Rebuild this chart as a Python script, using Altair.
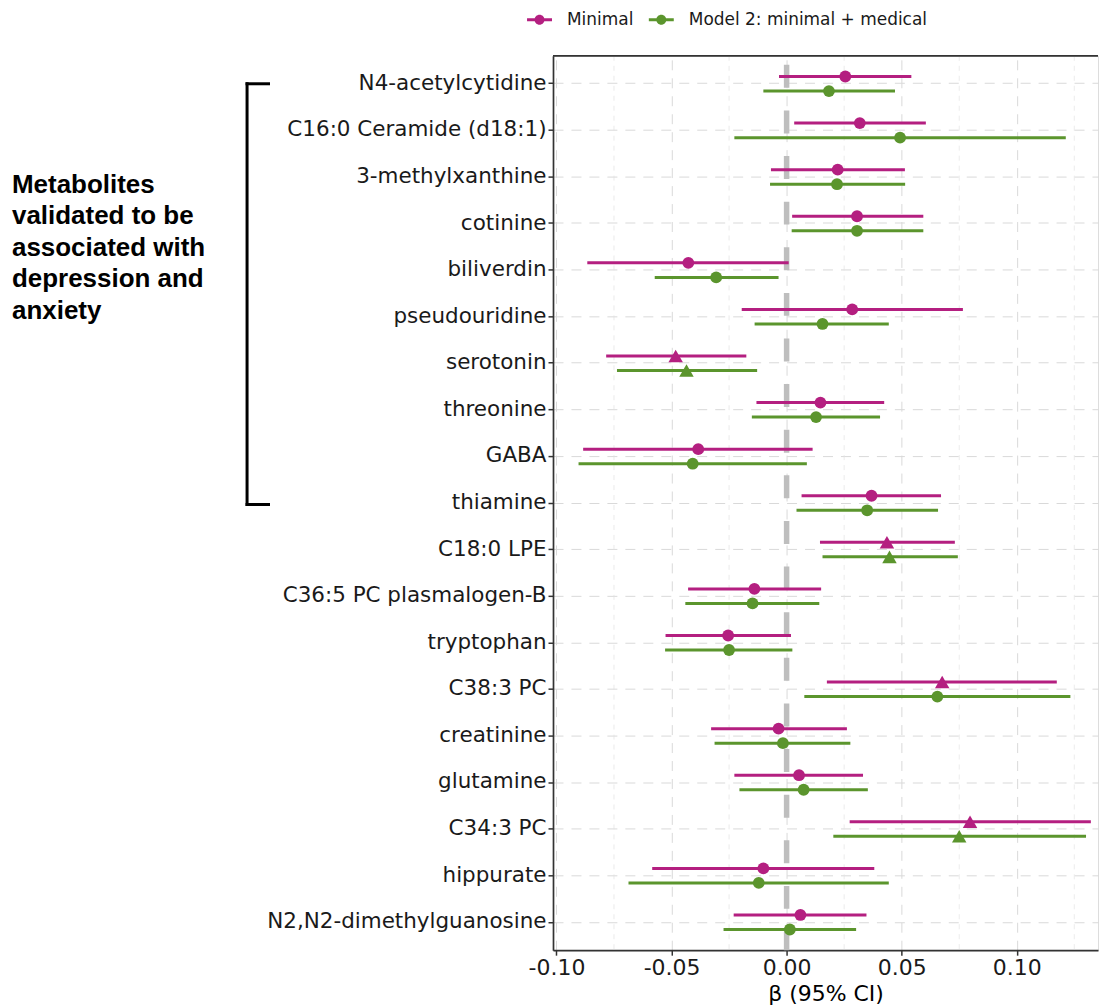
import altair as alt
import pandas as pd

metabolites = [
    "N4-acetylcytidine", "C16:0 Ceramide (d18:1)", "3-methylxanthine", "cotinine",
    "biliverdin", "pseudouridine", "serotonin", "threonine", "GABA", "thiamine",
    "C18:0 LPE", "C36:5 PC plasmalogen-B", "tryptophan", "C38:3 PC", "creatinine",
    "glutamine", "C34:3 PC", "hippurate", "N2,N2-dimethylguanosine",
]
models = ["Minimal", "Model 2: minimal + medical"]

minimal_beta = [0.0255, 0.0318, 0.0222, 0.0306, -0.0427, 0.0285, -0.0482, 0.0147, -0.0384, 0.0369,
                0.0436, -0.0140, -0.0254, 0.0676, -0.0035, 0.0054, 0.0797, -0.0101, 0.0060]
minimal_lo = [-0.0033, 0.0033, -0.0068, 0.0024, -0.0866, -0.0195, -0.0784, -0.0131, -0.0884, 0.0065,
              0.0145, -0.0428, -0.0526, 0.0175, -0.0328, -0.0227, 0.0274, -0.0584, -0.0230]
minimal_hi = [0.0542, 0.0605, 0.0514, 0.0594, 0.0009, 0.0766, -0.0175, 0.0424, 0.0113, 0.0671,
              0.0731, 0.0150, 0.0019, 0.1174, 0.0262, 0.0332, 0.1322, 0.0381, 0.0347]
minimal_sig = ["ns", "ns", "ns", "ns", "ns", "ns", "sig", "ns", "ns", "ns",
               "sig", "ns", "ns", "sig", "ns", "ns", "sig", "ns", "ns"]

model2_beta = [0.0184, 0.0493, 0.0219, 0.0306, -0.0306, 0.0156, -0.0435, 0.0128, -0.0408, 0.0350,
               0.0447, -0.0148, -0.0250, 0.0655, -0.0016, 0.0074, 0.0750, -0.0121, 0.0014]
model2_lo = [-0.0101, -0.0227, -0.0072, 0.0022, -0.0573, -0.0139, -0.0737, -0.0151, -0.0904, 0.0043,
             0.0156, -0.0440, -0.0528, 0.0077, -0.0313, -0.0205, 0.0203, -0.0687, -0.0274]
model2_hi = [0.0471, 0.1213, 0.0515, 0.0594, -0.0035, 0.0444, -0.0128, 0.0406, 0.0088, 0.0658,
             0.0744, 0.0142, 0.0025, 0.1233, 0.0277, 0.0353, 0.1301, 0.0444, 0.0302]
model2_sig = ["ns", "ns", "ns", "ns", "ns", "ns", "sig", "ns", "ns", "ns",
              "sig", "ns", "ns", "ns", "ns", "ns", "sig", "ns", "ns"]

x_ticks = [-0.10, -0.05, 0.0, 0.05, 0.10]
x_minor = [-0.075, -0.025, 0.025, 0.075, 0.125]
x_domain = [-0.1015, 0.1353]
annotation_lines = ["Metabolites", "validated to be", "associated with", "depression and", "anxiety"]

rows = []
for i, m in enumerate(metabolites):
    rows.append(dict(metabolite=m, model=models[0], beta=minimal_beta[i], lo=minimal_lo[i],
                     hi=minimal_hi[i], sig=minimal_sig[i]))
    rows.append(dict(metabolite=m, model=models[1], beta=model2_beta[i], lo=model2_lo[i],
                     hi=model2_hi[i], sig=model2_sig[i]))
df = pd.DataFrame(rows)

W, H = 546, 896
FONT = "DejaVu Sans"
PINK, GREEN = "#B41F80", "#5B952D"
TXT = "#1a1a1a"
AX = "#333333"
XTITLE = "β (95% CI)"

xscale = alt.Scale(domain=x_domain, nice=False, zero=False)
yscale = alt.Scale(domain=metabolites, paddingInner=0, paddingOuter=0.1)
yoff_scale = alt.Scale(domain=models, paddingInner=0, paddingOuter=0.6)
color_scale = alt.Scale(domain=models, range=[PINK, GREEN])

x_axis = alt.Axis(values=x_ticks, labelExpr="replace(format(datum.value, '.2f'), '\u2212', '-')",
                  labelFont=FONT, labelFontSize=22, labelColor=TXT,
                  tickColor=AX, tickSize=5, tickWidth=1.5, domainColor=AX, domainWidth=1.7,
                  grid=True, gridColor="#D9D9D9", gridWidth=1, gridDash=[10, 8],
                  labelPadding=2, labelFlush=False, labelOverlap=False,
                  titleFont=FONT, titleFontSize=22, titleFontWeight="normal", titleColor="black",
                  titlePadding=5)
y_axis = alt.Axis(labelFont=FONT, labelFontSize=21.5, labelColor=TXT, labelLimit=400,
                  tickColor=AX, tickSize=5, tickWidth=1.5, domainColor=AX, domainWidth=1.7,
                  grid=True, gridColor="#D9D9D9", gridWidth=1, gridDash=[10, 8], labelPadding=2)

legend_symbol = "M-2.5,-0.3H2.5V0.3H-2.5Z M-1,0A1,1,0,1,1,1,0A1,1,0,1,1,-1,0Z"
legend = alt.Legend(orient="none", legendX=-22, legendY=-45, direction="horizontal",
                    title=None, labelFont=FONT, labelFontSize=17, labelColor=TXT,
                    symbolType=legend_symbol, symbolSize=100, symbolStrokeWidth=0,
                    symbolOpacity=1, labelOffset=19, columnPadding=15,
                    labelLimit=400, padding=0)

base = alt.Chart(df)

bars = base.mark_rule(strokeWidth=3).encode(
    x=alt.X("lo:Q", scale=xscale, axis=x_axis, title=XTITLE),
    x2="hi:Q",
    y=alt.Y("metabolite:N", scale=yscale, sort=metabolites, axis=y_axis, title=None),
    yOffset=alt.YOffset("model:N", scale=yoff_scale, sort=models),
    color=alt.Color("model:N", scale=color_scale, legend=legend),
)

pts = base.mark_point(filled=True, opacity=1, strokeWidth=0).encode(
    x=alt.X("beta:Q", scale=xscale, axis=x_axis, title=XTITLE),
    y=alt.Y("metabolite:N", scale=yscale, sort=metabolites, axis=y_axis, title=None),
    yOffset=alt.YOffset("model:N", scale=yoff_scale, sort=models),
    color=alt.Color("model:N", scale=color_scale, legend=legend),
    shape=alt.Shape("sig:O", scale=alt.Scale(domain=["ns", "sig"], range=["circle", "triangle-up"]),
                    legend=None),
    size=alt.Size("sig:O", scale=alt.Scale(domain=["ns", "sig"], range=[140, 210]), legend=None),
)

minor = alt.Chart(pd.DataFrame({"m": x_minor})).mark_rule(
    color="#E2E2E2", strokeWidth=0.7, strokeDash=[5, 5]
).encode(x=alt.X("m:Q", scale=xscale, axis=x_axis, title=XTITLE), y=alt.value(0), y2=alt.value(H))

zero = alt.Chart(pd.DataFrame({"v": [0.0]})).mark_rule(
    color="#BEBEBE", strokeWidth=5.5, strokeDash=[23, 22.7], strokeDashOffset=36.7
).encode(x=alt.X("v:Q", scale=xscale, axis=x_axis, title=XTITLE), y=alt.value(0), y2=alt.value(H))

one = pd.DataFrame({"a": [0]})
top_border = alt.Chart(one).mark_rule(color=AX, strokeWidth=1.7).encode(
    x=alt.value(0), x2=alt.value(W), y=alt.value(0))

annot = alt.Chart(pd.DataFrame({"t": ["\n".join(annotation_lines)]})).mark_text(
    align="left", baseline="alphabetic", font="Liberation Sans", fontSize=26, fontWeight="bold",
    lineBreak="\n", lineHeight=31.6, color="black"
).encode(text="t:N", x=alt.value(-542), y=alt.value(137))

br_v = alt.Chart(one).mark_rule(color="black", strokeWidth=3, strokeCap="square").encode(
    x=alt.value(-306.5), y=alt.value(28), y2=alt.value(449.5))
br_t = alt.Chart(one).mark_rule(color="black", strokeWidth=3, strokeCap="square").encode(
    x=alt.value(-306.5), x2=alt.value(-285), y=alt.value(28))
br_b = alt.Chart(one).mark_rule(color="black", strokeWidth=3, strokeCap="square").encode(
    x=alt.value(-306.5), x2=alt.value(-285), y=alt.value(449.5))

chart = alt.layer(minor, zero, bars, pts, top_border, annot, br_v, br_t, br_b).properties(
    width=W, height=H, padding={"left": 4, "top": 2, "right": 0, "bottom": 0}
).configure_view(stroke=None).configure(background="white")

chart.save("out.html", embed_options={"renderer": "svg", "actions": False})
